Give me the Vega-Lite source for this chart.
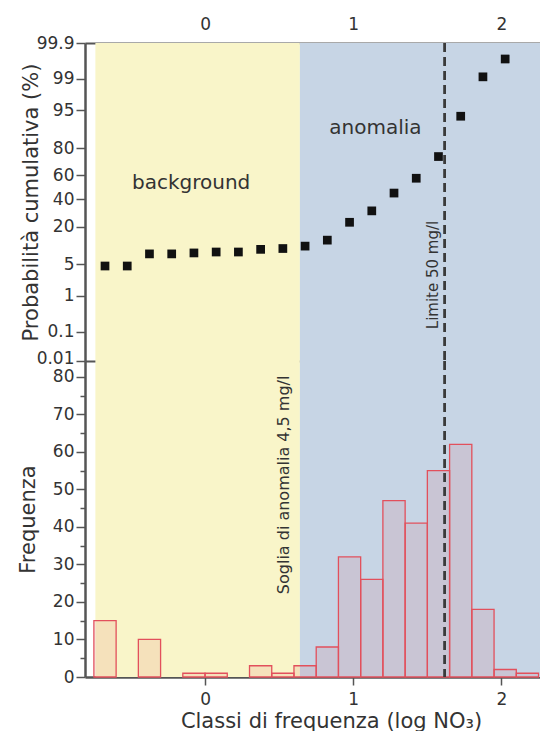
{
  "$schema": "https://vega.github.io/schema/vega-lite/v6.json",
  "background": "white",
  "padding": {"left": 17, "top": 15, "right": 0, "bottom": 0},
  "config": {
    "font": "DejaVu Sans",
    "view": {"stroke": null},
    "axis": {
      "labelFont": "DejaVu Sans",
      "titleFont": "DejaVu Sans",
      "labelFontSize": 17,
      "titleFontSize": 21,
      "titleFontWeight": "normal",
      "labelColor": "#333333",
      "titleColor": "#333333",
      "domainColor": "#555555",
      "domainWidth": 2,
      "tickColor": "#555555",
      "tickWidth": 1.5,
      "labelOverlap": false,
      "grid": false
    }
  },
  "datasets": {
    "classi": [
      {"da": -0.75, "a": -0.60, "centro": -0.675, "n": 15, "cum": 4.6},
      {"da": -0.60, "a": -0.45, "centro": -0.525, "n": 0, "cum": 4.6},
      {"da": -0.45, "a": -0.30, "centro": -0.375, "n": 10, "cum": 7.7},
      {"da": -0.30, "a": -0.15, "centro": -0.225, "n": 0, "cum": 7.7},
      {"da": -0.15, "a": 0.00, "centro": -0.075, "n": 1, "cum": 8.0},
      {"da": 0.00, "a": 0.15, "centro": 0.075, "n": 1, "cum": 8.3},
      {"da": 0.15, "a": 0.30, "centro": 0.225, "n": 0, "cum": 8.3},
      {"da": 0.30, "a": 0.45, "centro": 0.375, "n": 3, "cum": 9.2},
      {"da": 0.45, "a": 0.60, "centro": 0.525, "n": 1, "cum": 9.5},
      {"da": 0.60, "a": 0.75, "centro": 0.675, "n": 3, "cum": 10.4},
      {"da": 0.75, "a": 0.90, "centro": 0.825, "n": 8, "cum": 12.9},
      {"da": 0.90, "a": 1.05, "centro": 0.975, "n": 32, "cum": 22.7},
      {"da": 1.05, "a": 1.20, "centro": 1.125, "n": 26, "cum": 30.7},
      {"da": 1.20, "a": 1.35, "centro": 1.275, "n": 47, "cum": 45.1},
      {"da": 1.35, "a": 1.50, "centro": 1.425, "n": 41, "cum": 57.7},
      {"da": 1.50, "a": 1.65, "centro": 1.575, "n": 55, "cum": 74.5},
      {"da": 1.65, "a": 1.80, "centro": 1.725, "n": 62, "cum": 93.6},
      {"da": 1.80, "a": 1.95, "centro": 1.875, "n": 18, "cum": 99.1},
      {"da": 1.95, "a": 2.10, "centro": 2.025, "n": 2, "cum": 99.7},
      {"da": 2.10, "a": 2.25, "centro": 2.175, "n": 1, "cum": null}
    ],
    "zone": [
      {"zona": "background", "da": -0.74, "a": 0.64},
      {"zona": "anomalia", "da": 0.64, "a": 2.26}
    ]
  },
  "spacing": 0,
  "bounds": "flush",
  "vconcat": [
    {
      "width": 455,
      "height": 318,
      "resolve": {"axis": {"x": "independent"}},
      "layer": [
        {
          "data": {"name": "zone"},
          "mark": {"type": "rect"},
          "encoding": {
            "x": {
              "field": "da", "type": "quantitative",
              "scale": {"domain": [-0.81, 2.26], "nice": false, "zero": false},
              "axis": {"orient": "top", "values": [0, 1, 2], "tickCount": 50, "format": "d", "title": null, "tickSize": -7, "labelPadding": 17, "labelOverlap": false}
            },
            "x2": {"field": "a"},
            "y": {
              "datum": -3.719, "type": "quantitative",
              "scale": {"domain": [-3.719, 3.0902], "nice": false, "zero": false},
              "axis": {
                "title": "Probabilità cumulativa (%)",
                "values": [3.0902, 2.3263, 1.6449, 0.8416, 0.2533, -0.2533, -0.8416, -1.6449, -2.3263, -3.0902, -3.719],
                "tickCount": 50,
                "labelExpr": "format(cumulativeNormal(datum.value) * 100, '.3~r')",
                "labelOffset": {"condition": {"test": "datum.value < -3.5", "value": -3}, "value": 0},
                "labelOverlap": false,
                "tickSize": 9,
                "labelPadding": 2,
                "titlePadding": -5,
                "domainWidth": 2.5
              }
            },
            "y2": {"datum": 3.0902},
            "color": {
              "field": "zona", "type": "nominal",
              "scale": {"domain": ["background", "anomalia"], "range": ["#f9f5c9", "#c7d5e5"]},
              "legend": null
            }
          }
        },
        {
          "data": {"name": "zone"},
          "mark": {"type": "rule", "strokeDash": [9, 5], "strokeWidth": 2.5, "color": "#3a3a3a"},
          "encoding": {
            "x": {
              "datum": 1.617, "type": "quantitative",
              "axis": {"orient": "bottom", "values": [0, 1, 2], "tickCount": 50, "title": null, "labels": false, "tickSize": -7}
            }
          }
        },
        {
          "data": {"name": "classi"},
          "transform": [
            {"filter": "isValid(datum.cum)"},
            {"calculate": "quantileNormal(datum.cum / 100)", "as": "probit"}
          ],
          "mark": {"type": "square", "size": 76, "color": "#111111", "opacity": 1},
          "encoding": {
            "x": {"field": "centro", "type": "quantitative", "axis": null},
            "y": {"field": "probit", "type": "quantitative"}
          }
        },
        {
          "data": {"values": [{"testo": "background"}]},
          "mark": {"type": "text", "fontSize": 20, "color": "#333333", "align": "center", "baseline": "middle"},
          "encoding": {
            "x": {"datum": -0.094, "type": "quantitative", "axis": null},
            "y": {"datum": 0.092, "type": "quantitative"},
            "text": {"field": "testo"}
          }
        },
        {
          "data": {"values": [{"testo": "anomalia"}]},
          "mark": {"type": "text", "fontSize": 20, "color": "#333333", "align": "center", "baseline": "middle"},
          "encoding": {
            "x": {"datum": 1.15, "type": "quantitative", "axis": null},
            "y": {"datum": 1.276, "type": "quantitative"},
            "text": {"field": "testo"}
          }
        },
        {
          "data": {"values": [{"testo": "Limite 50 mg/l"}]},
          "mark": {"type": "text", "fontSize": 15, "color": "#333333", "align": "center", "baseline": "middle", "angle": 270},
          "encoding": {
            "x": {"datum": 1.54, "type": "quantitative", "axis": null},
            "y": {"datum": -1.878, "type": "quantitative"},
            "text": {"field": "testo"}
          }
        }
      ]
    },
    {
      "width": 455,
      "height": 316,
      "layer": [
        {
          "data": {"name": "zone"},
          "mark": {"type": "rect"},
          "encoding": {
            "x": {
              "field": "da", "type": "quantitative",
              "scale": {"domain": [-0.81, 2.26], "nice": false, "zero": false},
              "axis": {"orient": "bottom", "values": [0, 1, 2], "tickCount": 50, "format": "d", "title": "Classi di frequenza (log NO₃)", "titleX": 246, "tickSize": 8, "labelPadding": 6, "titlePadding": 3, "domainWidth": 2.5, "labelOverlap": false}
            },
            "x2": {"field": "a"},
            "y": {
              "datum": 0, "type": "quantitative",
              "scale": {"domain": [0, 84.2], "nice": false, "zero": false},
              "axis": {
                "title": "Frequenza",
                "values": [0, 5, 10, 15, 20, 25, 30, 35, 40, 45, 50, 55, 60, 65, 70, 75, 80],
                "tickCount": 50,
                "labelExpr": "datum.value % 10 === 0 ? datum.label : ''",
                "tickSize": {"condition": {"test": "datum.value % 10 === 0", "value": 9}, "value": 5},
                "labelOverlap": false,
                "labelPadding": 2,
                "titlePadding": 14,
                "domainWidth": 2.5
              }
            },
            "y2": {"datum": 84.2},
            "color": {
              "field": "zona", "type": "nominal",
              "scale": {"domain": ["background", "anomalia"], "range": ["#f9f5c9", "#c7d5e5"]},
              "legend": null
            }
          }
        },
        {
          "data": {"name": "classi"},
          "transform": [{"filter": "datum.n > 0"}],
          "mark": {"type": "rect", "fill": "#e2505c", "fillOpacity": 0.12, "stroke": "#e2505c", "strokeWidth": 1.3},
          "encoding": {
            "x": {"field": "da", "type": "quantitative"},
            "x2": {"field": "a"},
            "y": {"field": "n", "type": "quantitative"},
            "y2": {"datum": 0}
          }
        },
        {
          "data": {"name": "zone"},
          "mark": {"type": "rule", "strokeDash": [9, 5], "strokeWidth": 2.5, "color": "#3a3a3a"},
          "encoding": {
            "x": {"datum": 1.617, "type": "quantitative"}
          }
        },
        {
          "data": {"values": [{"testo": "Soglia di anomalia 4,5 mg/l"}]},
          "mark": {"type": "text", "fontSize": 16, "color": "#333333", "align": "center", "baseline": "middle", "angle": 270},
          "encoding": {
            "x": {"datum": 0.532, "type": "quantitative"},
            "y": {"datum": 51.2, "type": "quantitative"},
            "text": {"field": "testo"}
          }
        }
      ]
    }
  ]
}
